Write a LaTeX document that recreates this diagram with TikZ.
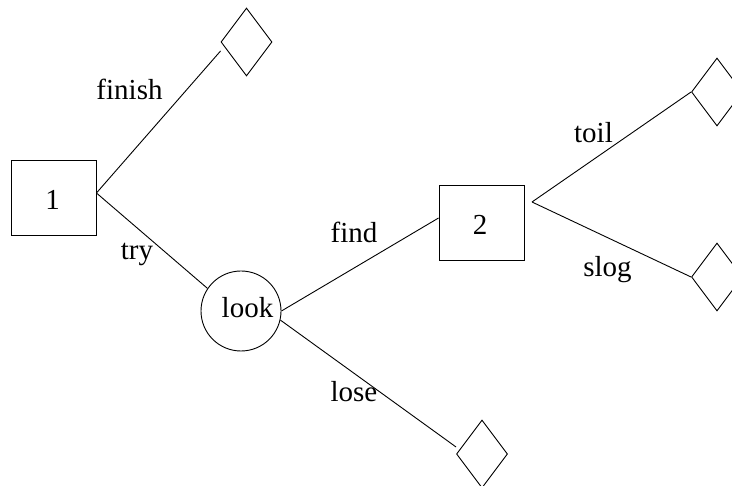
\documentclass[tikz,border=0pt]{standalone}
\usepackage{fontspec}
\setmainfont{Liberation Serif}
\newfontfamily\treefont{Liberation Serif}
\usetikzlibrary{shapes.geometric}
\begin{document}
\begin{tikzpicture}[x=1pt,y=-1pt,
  every node/.style={font=\treefont\fontsize{29}{34}\selectfont},
  wire/.style={draw=black,line width=0.9pt},
  decision/.style={wire,rectangle,minimum width=85pt,minimum height=75pt,inner sep=0pt},
  chance/.style={wire,circle,minimum size=80pt,inner sep=0pt},
  leaf/.style={wire,diamond,minimum width=51pt,minimum height=68pt,inner sep=0pt},
  tag/.style={anchor=base,inner sep=0pt}]
\clip (0,0) rectangle (732,486);
\useasboundingbox (0,0) rectangle (732,486);

% decision boxes, chance node and terminal diamonds
\node[decision] (b1) at (53.5,197.5) {};
\node[tag] (b1txt) at (52.5,210) {1};
\node[decision] (b2) at (481.5,222.5) {};
\node[tag] (b2txt) at (480,235) {2};
\node[chance] (look) at (241,311) {};
\node[tag] (looktxt) at (247.5,318) {look};
\node[leaf] (d1) at (246.5,42) {};
\node[leaf] (d3) at (482,454) {};
\node[leaf] (d4) at (717,92) {};
\node[leaf] (d5) at (717,277) {};
\coordinate (fork) at (532,202);

% branches
\draw[wire] ([yshift=4.5pt]b1.east) -- ([yshift=-9pt]d1.west);
\draw[wire] ([yshift=4.5pt]b1.east) -- (look.146);
\draw[wire] (look.east) -- ([yshift=4.5pt]b2.west);
\draw[wire] (look.-13) -- ([yshift=7pt]d3.west);
\draw[wire] (fork) -- (d4.west);
\draw[wire] (fork) -- (d5.west);

% branch labels
\node[tag] (lfinish) at (129.5,100) {finish};
\node[tag] (ltry) at (137,260) {try};
\node[tag] (lfind) at (354,243) {find};
\node[tag] (llose) at (354,402) {lose};
\node[tag] (ltoil) at (593.5,143) {toil};
\node[tag] (lslog) at (607.5,277) {slog};
\end{tikzpicture}
\end{document}
